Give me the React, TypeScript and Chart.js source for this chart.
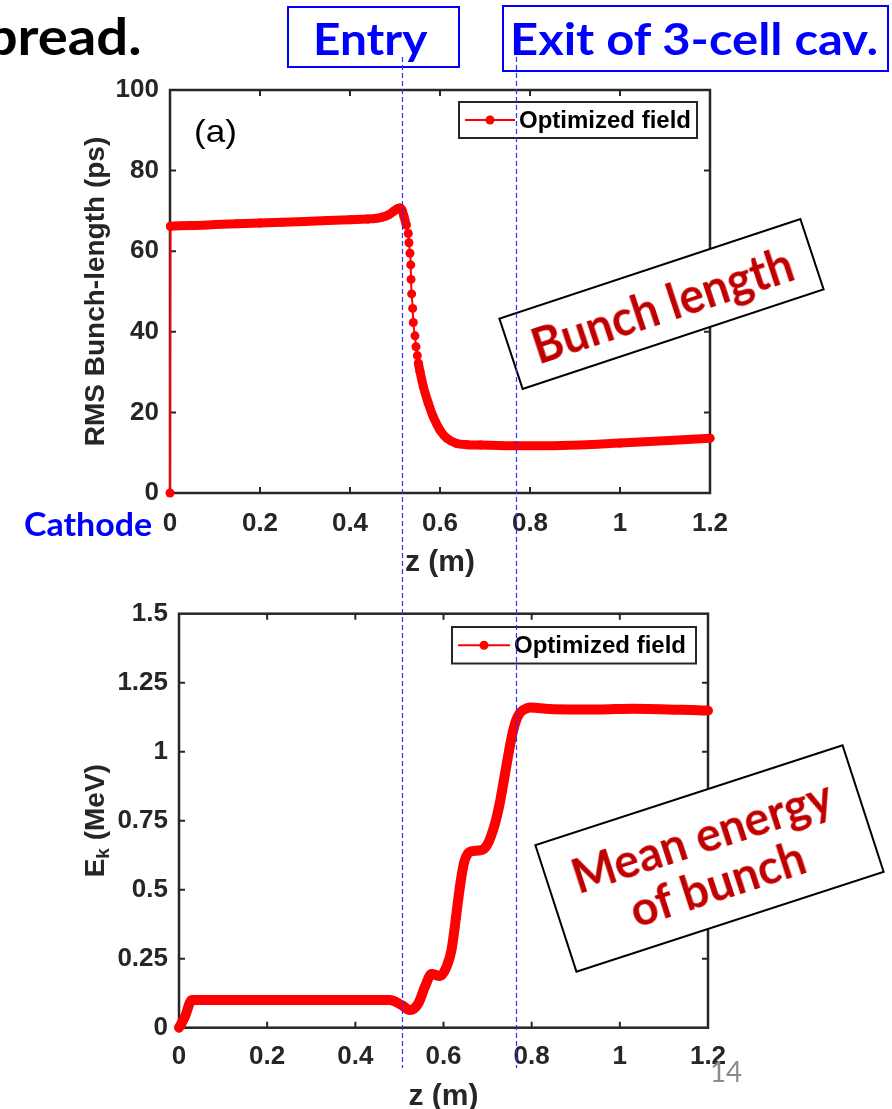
import React, { useEffect, useRef } from "react";
import { Chart, registerables } from "chart.js";

Chart.register(...registerables);

// ---------------- data ----------------
const zTickValues = [0, 0.2, 0.4, 0.6, 0.8, 1, 1.2];
const zTickLabels = ["0", "0.2", "0.4", "0.6", "0.8", "1", "1.2"];
const bunchTickValues = [0, 20, 40, 60, 80, 100];
const bunchTickLabels = ["0", "20", "40", "60", "80", "100"];
const energyTickValues = [0, 0.25, 0.5, 0.75, 1, 1.25, 1.5];
const energyTickLabels = ["0", "0.25", "0.5", "0.75", "1", "1.25", "1.5"];

const seriesLabel = "Optimized field";

// RMS bunch length (ps) vs z (m)
const bunchZ = [
  0, 0.001, 0.05, 0.1, 0.15, 0.2, 0.25, 0.3, 0.35, 0.4,
  0.44, 0.455, 0.47, 0.485, 0.497, 0.505, 0.511, 0.516, 0.52, 0.525,
  0.5295, 0.531, 0.5333, 0.535, 0.5356, 0.537, 0.5393, 0.5407, 0.5444, 0.5467,
  0.5496, 0.552, 0.5556, 0.563, 0.574, 0.585, 0.6, 0.615, 0.637, 0.66,
  0.69, 0.77, 0.87, 1.0, 1.11, 1.2,
];
const bunchPs = [
  0, 66.2, 66.4, 66.6, 66.8, 67.0, 67.2, 67.4, 67.6, 67.8,
  68.0, 68.1, 68.4, 69.0, 69.9, 70.5, 70.7, 70.1, 68.6, 66.5,
  64.4, 62.1, 59.5, 56.6, 53.0, 49.4, 45.8, 42.3, 39.0, 36.3,
  34.1, 32.2, 30.1, 26.4, 22.3, 18.9, 15.6, 13.6, 12.3, 12.0,
  11.9, 11.7, 11.8, 12.4, 13.0, 13.6,
];

// Mean kinetic energy (MeV) vs z (m)
const energyZ = [
  0, 0.0136, 0.029, 0.05, 0.1, 0.2, 0.3, 0.4, 0.478, 0.505,
  0.524, 0.543, 0.558, 0.573, 0.592, 0.607, 0.618, 0.626, 0.633, 0.64,
  0.647, 0.655, 0.665, 0.68, 0.692, 0.7, 0.708, 0.716, 0.722, 0.729,
  0.739, 0.749, 0.757, 0.765, 0.773, 0.782, 0.796, 0.84, 0.95, 1.03,
  1.2,
];
const energyMeV = [
  0, 0.04, 0.1, 0.1, 0.1, 0.1, 0.1, 0.1, 0.1, 0.082,
  0.064, 0.088, 0.149, 0.195, 0.187, 0.221, 0.28, 0.37, 0.46, 0.54,
  0.6, 0.63, 0.64, 0.642, 0.648, 0.665, 0.695, 0.735, 0.772, 0.825,
  0.915, 1.006, 1.07, 1.115, 1.14, 1.152, 1.16, 1.155, 1.153, 1.156,
  1.149,
];

// ---------------- styles ----------------
const AXIS = "#262626";
const RED = "#ff0000";
const BLUE = "#0000ff";
const DARKRED = "#c00000";
const HELV = "'Liberation Sans', Arial, Helvetica, sans-serif";
const CAL = "Lato, 'Open Sans', sans-serif";

let measureCtx: any = null;
function measure(font: string, text: string) {
  if (!measureCtx) measureCtx = document.createElement("canvas").getContext("2d");
  measureCtx.font = font;
  return measureCtx.measureText(text);
}

function FitText(props: any) {
  const { text, inkLeft, inkRight, inkWidth, baseline, size, weight = 700, family = CAL, color } = props;
  const font = `${weight} ${size}px ${family}`;
  const m = measure(font, text);
  const ink = m.actualBoundingBoxLeft + m.actualBoundingBoxRight;
  const sx = inkWidth ? inkWidth / ink : 1;
  const left0 = inkRight !== undefined ? inkRight - ink * sx : inkLeft;
  const asc = m.fontBoundingBoxAscent;
  const desc = m.fontBoundingBoxDescent;
  const baseOff = (size - (asc + desc)) / 2 + asc;
  return (
    <div
      style={{
        position: "absolute",
        left: left0 + m.actualBoundingBoxLeft * sx,
        top: baseline - baseOff,
        fontFamily: family,
        fontSize: size,
        fontWeight: weight,
        lineHeight: `${size}px`,
        color,
        whiteSpace: "nowrap",
        transform: `scaleX(${sx})`,
        transformOrigin: "0 0",
      }}
    >
      {text}
    </div>
  );
}

function RotBox(props: any) {
  const { cx, cy, w, h, angle, lines, inkWidths, size, lineH } = props;
  const font = `700 ${size}px ${CAL}`;
  return (
    <div
      style={{
        position: "absolute",
        left: cx - w / 2,
        top: cy - h / 2,
        width: w,
        height: h,
        boxSizing: "border-box",
        border: "2px solid #000",
        background: "#fff",
        transform: `rotate(${angle}deg)`,
        display: "flex",
        flexDirection: "column",
        alignItems: "center",
        justifyContent: "center",
      }}
    >
      {lines.map((t: string, i: number) => {
        const m = measure(font, t);
        const ink = m.actualBoundingBoxLeft + m.actualBoundingBoxRight;
        const sx = inkWidths[i] / ink;
        return (
          <div
            key={i}
            style={{
              fontFamily: CAL,
              fontSize: size,
              fontWeight: 700,
              color: DARKRED,
              lineHeight: `${lineH}px`,
              whiteSpace: "nowrap",
              transform: `scaleX(${sx})`,
            }}
          >
            {t}
          </div>
        );
      })}
    </div>
  );
}

// ---------------- chart helpers ----------------
const framePlugin = {
  id: "matlabFrame",
  beforeDatasetsDraw(chart: any) {
    const { ctx, chartArea: a } = chart;
    const xs = chart.scales.x;
    const ys = chart.scales.y;
    ctx.save();
    ctx.strokeStyle = AXIS;
    ctx.lineWidth = 2;
    ctx.beginPath();
    for (const t of xs.ticks) {
      const px = xs.getPixelForValue(t.value);
      if (px <= a.left + 1 || px >= a.right - 1) continue;
      ctx.moveTo(px, a.bottom);
      ctx.lineTo(px, a.bottom - 6);
      ctx.moveTo(px, a.top);
      ctx.lineTo(px, a.top + 6);
    }
    for (const t of ys.ticks) {
      const py = ys.getPixelForValue(t.value);
      if (py <= a.top + 1 || py >= a.bottom - 1) continue;
      ctx.moveTo(a.left, py);
      ctx.lineTo(a.left + 6, py);
      ctx.moveTo(a.right, py);
      ctx.lineTo(a.right - 6, py);
    }
    ctx.stroke();
    ctx.lineWidth = 2.5;
    ctx.strokeRect(a.left, a.top, a.right - a.left, a.bottom - a.top);
    ctx.restore();
  },
};

function legendPlugin(box: any) {
  return {
    id: "customLegend",
    afterDatasetsDraw(chart: any) {
      const { ctx, chartArea: a } = chart;
      const x0 = a.right - box.dxRight;
      const y0 = a.top + box.dyTop;
      const cy = y0 + box.h / 2;
      ctx.save();
      ctx.fillStyle = "#fff";
      ctx.fillRect(x0, y0, box.w, box.h);
      ctx.strokeStyle = AXIS;
      ctx.lineWidth = 2;
      ctx.strokeRect(x0, y0, box.w, box.h);
      ctx.strokeStyle = RED;
      ctx.lineWidth = 2;
      ctx.beginPath();
      ctx.moveTo(x0 + box.lineFrom, cy);
      ctx.lineTo(x0 + box.lineTo, cy);
      ctx.stroke();
      ctx.fillStyle = RED;
      ctx.beginPath();
      ctx.arc(x0 + (box.lineFrom + box.lineTo) / 2, cy, 4.5, 0, Math.PI * 2);
      ctx.fill();
      ctx.fillStyle = "#000";
      ctx.font = `bold 24px ${HELV}`;
      ctx.textBaseline = "middle";
      ctx.textAlign = "left";
      ctx.fillText(chart.data.datasets[0].label, x0 + box.textX, cy + 1);
      ctx.restore();
    },
  };
}

const energyTitlePlugin = {
  id: "energyTitle",
  afterDraw(chart: any) {
    const { ctx, chartArea: a } = chart;
    const cy = (a.top + a.bottom) / 2;
    ctx.save();
    ctx.translate(96, cy);
    ctx.rotate(-Math.PI / 2);
    ctx.fillStyle = AXIS;
    ctx.textBaseline = "middle";
    ctx.textAlign = "left";
    const big = `bold 28px ${HELV}`;
    const small = `bold 19px ${HELV}`;
    ctx.font = big;
    const wE = ctx.measureText("E").width;
    const wR = ctx.measureText(" (MeV)").width;
    ctx.font = small;
    const wK = ctx.measureText("k").width;
    let x = -(wE + wK + wR) / 2;
    ctx.font = big;
    ctx.fillText("E", x, 0);
    x += wE;
    ctx.font = small;
    ctx.fillText("k", x, 8);
    x += wK;
    ctx.font = big;
    ctx.fillText(" (MeV)", x, 0);
    ctx.restore();
  },
};

const tickFont = { family: HELV, size: 26, weight: "bold" as any };

function zScale(height: number, tickPad: number, titlePadBottom: number) {
  return {
    type: "linear",
    min: 0,
    max: 1.2,
    grid: { display: false, drawTicks: false },
    border: { display: false },
    afterBuildTicks: (s: any) => {
      s.ticks = zTickValues.map((v) => ({ value: v }));
    },
    afterFit: (s: any) => {
      s.height = height;
    },
    ticks: {
      padding: tickPad,
      color: AXIS,
      font: tickFont,
      maxRotation: 0,
      autoSkip: false,
      callback: (_v: any, i: number) => zTickLabels[i],
    },
    title: {
      display: true,
      text: "z (m)",
      color: AXIS,
      font: { family: HELV, size: 30, weight: "bold" },
      padding: { top: 0, bottom: titlePadBottom },
    },
  };
}

export default function App() {
  const ref1 = useRef<HTMLCanvasElement>(null);
  const ref2 = useRef<HTMLCanvasElement>(null);

  useEffect(() => {
    const thinLo = 33;
    const thinHi = 67;
    const c1 = new Chart(ref1.current as HTMLCanvasElement, {
      type: "line",
      data: {
        datasets: [
          {
            label: seriesLabel,
            data: bunchZ.map((z, i) => ({ x: z, y: bunchPs[i] })),
            borderColor: RED,
            backgroundColor: RED,
            pointBackgroundColor: RED,
            pointBorderWidth: 0,
            pointRadius: 4.5,
            borderWidth: 9,
            borderCapStyle: "round",
            borderJoinStyle: "round",
            cubicInterpolationMode: "monotone",
            clip: false,
            segment: {
              borderWidth: (ctx: any) => {
                const dy = Math.abs(ctx.p1.y - ctx.p0.y);
                const hi = Math.max(bunchPs[ctx.p0DataIndex], bunchPs[ctx.p1DataIndex]);
                return dy > 6 && hi > thinLo && hi < thinHi ? 2 : 9;
              },
            },
          } as any,
        ],
      },
      options: {
        responsive: false,
        animation: false,
        events: [],
        layout: { padding: { left: 0, right: 182, top: 30, bottom: 0 } },
        plugins: { legend: { display: false }, tooltip: { enabled: false } },
        scales: {
          x: zScale(107, 15, 19),
          y: {
            type: "linear",
            min: 0,
            max: 100,
            grid: { display: false, drawTicks: false },
            border: { display: false },
            afterBuildTicks: (s: any) => {
              s.ticks = bunchTickValues.map((v) => ({ value: v }));
            },
            afterFit: (s: any) => {
              s.width = 170;
            },
            ticks: {
              padding: 11,
              color: AXIS,
              font: tickFont,
              callback: (_v: any, i: number) => bunchTickLabels[i],
            },
            title: {
              display: true,
              text: "RMS Bunch-length (ps)",
              color: AXIS,
              font: { family: HELV, size: 28, weight: "bold" },
              padding: { top: 79, bottom: 0 },
            },
          },
        } as any,
      },
      plugins: [
        framePlugin,
        legendPlugin({ dxRight: 251, dyTop: 12, w: 238, h: 36, lineFrom: 6, lineTo: 56, textX: 60 }),
      ],
    } as any);

    const c2 = new Chart(ref2.current as HTMLCanvasElement, {
      type: "line",
      data: {
        datasets: [
          {
            label: seriesLabel,
            data: energyZ.map((z, i) => ({ x: z, y: energyMeV[i] })),
            borderColor: RED,
            backgroundColor: RED,
            pointRadius: 0,
            borderWidth: 10,
            borderCapStyle: "round",
            borderJoinStyle: "round",
            cubicInterpolationMode: "monotone",
            clip: false,
          } as any,
        ],
      },
      options: {
        responsive: false,
        animation: false,
        events: [],
        layout: { padding: { left: 0, right: 184, top: 33.7, bottom: 0 } },
        plugins: { legend: { display: false }, tooltip: { enabled: false } },
        scales: {
          x: zScale(102.3, 13.7, 15.3),
          y: {
            type: "linear",
            min: 0,
            max: 1.5,
            grid: { display: false, drawTicks: false },
            border: { display: false },
            afterBuildTicks: (s: any) => {
              s.ticks = energyTickValues.map((v) => ({ value: v }));
            },
            afterFit: (s: any) => {
              s.width = 179;
            },
            ticks: {
              padding: 11,
              color: AXIS,
              font: tickFont,
              callback: (_v: any, i: number) => energyTickLabels[i],
            },
            title: { display: false },
          },
        } as any,
      },
      plugins: [
        framePlugin,
        energyTitlePlugin,
        legendPlugin({ dxRight: 256, dyTop: 13.3, w: 244, h: 36.5, lineFrom: 6, lineTo: 58, textX: 62 }),
      ],
    } as any);

    return () => {
      c1.destroy();
      c2.destroy();
    };
  }, []);

  return (
    <div
      style={{
        position: "absolute",
        left: 0,
        top: 0,
        width: 892,
        height: 1109,
        overflow: "hidden",
        background: "#fff",
      }}
    >
      <canvas
        ref={ref1}
        width={892}
        height={540}
        style={{ position: "absolute", left: 0, top: 60, width: 892, height: 540 }}
      />
      <canvas
        ref={ref2}
        width={892}
        height={550}
        style={{ position: "absolute", left: 0, top: 580, width: 892, height: 550 }}
      />

      {/* slide title fragment (clipped at the left edge) */}
      <FitText text="spread." inkRight={140} inkWidth={178} baseline={55} size={52} color="#000" />

      {/* Entry / Exit labels */}
      <div
        style={{
          position: "absolute",
          left: 287,
          top: 6,
          width: 173,
          height: 62,
          boxSizing: "border-box",
          border: `2px solid ${BLUE}`,
          background: "#fff",
        }}
      />
      <div
        style={{
          position: "absolute",
          left: 502,
          top: 5,
          width: 387,
          height: 67,
          boxSizing: "border-box",
          border: `2px solid ${BLUE}`,
          background: "#fff",
        }}
      />
      <FitText text="Entry" inkLeft={316} inkWidth={112} baseline={55} size={44} color={BLUE} />
      <FitText text="Exit of 3-cell cav." inkLeft={513} inkWidth={364} baseline={55} size={44} color={BLUE} />

      {/* Cathode */}
      <FitText text="Cathode" inkLeft={25} inkWidth={127} baseline={536} size={32} color={BLUE} />

      {/* (a) */}
      <FitText text="(a)" inkLeft={195} inkWidth={40} baseline={142} size={32} weight={400} family={HELV} color="#000" />

      {/* annotation boxes */}
      <RotBox
        cx={661}
        cy={304}
        w={319}
        h={76}
        angle={-18.3}
        lines={["Bunch length"]}
        inkWidths={[267]}
        size={49}
        lineH={54}
      />
      <RotBox
        cx={709}
        cy={858}
        w={325}
        h={135}
        angle={-18}
        lines={["Mean energy", "of bunch"]}
        inkWidths={[268, 179]}
        size={47}
        lineH={50}
      />

      {/* page number */}
      <FitText text="14" inkLeft={712} inkWidth={30} baseline={1082} size={28} weight={400} color="#8c8c8c" />

      {/* dashed guide lines */}
      <svg
        width={892}
        height={1109}
        style={{ position: "absolute", left: 0, top: 0, pointerEvents: "none" }}
      >
        <line x1={402.5} y1={57} x2={402.5} y2={1068} stroke="#2f2fff" strokeWidth={1.2} strokeDasharray="5 3" />
        <line x1={516.5} y1={57} x2={516.5} y2={1068} stroke="#2f2fff" strokeWidth={1.2} strokeDasharray="5 3" />
      </svg>
    </div>
  );
}
